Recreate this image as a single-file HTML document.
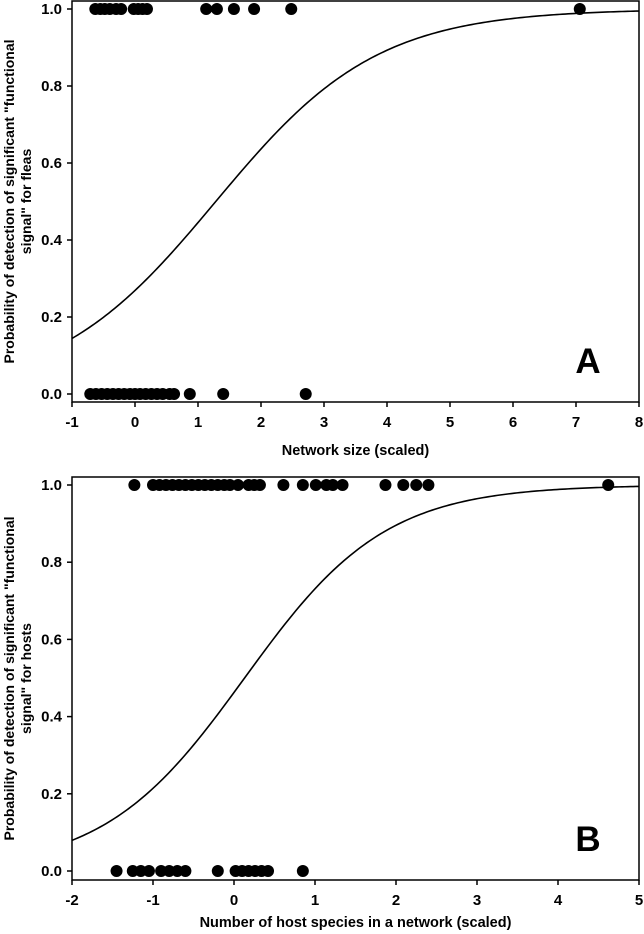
<!DOCTYPE html>
<html><head><meta charset="utf-8"><style>
html,body{margin:0;padding:0;background:#fff;}
svg{display:block;font-family:"Liberation Sans",Arial,sans-serif;font-weight:bold;}
</style></head><body>
<svg id="chart" width="644" height="934" viewBox="0 0 644 934"></svg>
<script>
const xTicksA = [-1,0,1,2,3,4,5,6,7,8];
const xTicksB = [-2,-1,0,1,2,3,4,5];
const yTicks = [0,0.2,0.4,0.6,0.8,1.0];
const yTickLabels = ["0.0","0.2","0.4","0.6","0.8","1.0"];
const pointsA1 = [-0.63,-0.55,-0.48,-0.40,-0.30,-0.22,-0.02,0.05,0.12,0.19,1.13,1.30,1.57,1.89,2.48,7.06];
const pointsA0 = [-0.71,-0.62,-0.53,-0.44,-0.35,-0.26,-0.17,-0.08,0.0,0.08,0.17,0.26,0.35,0.44,0.55,0.62,0.87,1.40,2.71];
const pointsB1 = [-1.23,-1.0,-0.92,-0.84,-0.76,-0.68,-0.60,-0.52,-0.44,-0.36,-0.28,-0.20,-0.12,-0.05,0.05,0.18,0.25,0.32,0.61,0.85,1.01,1.14,1.22,1.34,1.87,2.09,2.25,2.40,4.62];
const pointsB0 = [-1.45,-1.25,-1.15,-1.05,-0.9,-0.8,-0.7,-0.6,-0.2,0.02,0.1,0.18,0.26,0.34,0.42,0.85];
const coefA = [-1.0, 0.78];
const coefB = [-0.15, 1.15];

const svg = document.getElementById('chart');
const NS = 'http://www.w3.org/2000/svg';
function mk(tag, attrs, parent){const e=document.createElementNS(NS,tag);for(const k in attrs)e.setAttribute(k,attrs[k]);(parent||svg).appendChild(e);return e;}

function panel(cfg){
  const g = mk('g',{});
  
  
  const L=72,R=639,T=cfg.top,B=cfg.bottom;
  const sx = v => L + (v-cfg.xmin)/(cfg.xmax-cfg.xmin)*(R-L);
  const sy = v => cfg.y0 + (cfg.y1-cfg.y0)*v;
  const frame = mk('rect',{x:L,y:T,width:R-L,height:B-T,fill:'none',stroke:'#000','stroke-width':1.5},g);
  
  
  cfg.xticks.forEach(t=>{
    const x=sx(t);
    const tk = mk('line',{x1:x,x2:x,y1:B,y2:B+5,stroke:'#000','stroke-width':1.5},g);
    
    
    const lb = mk('text',{x:x,y:B+25,'text-anchor':'middle','font-size':15},g);
    lb.textContent=t;
    
    
  });
  yTicks.forEach((t,i)=>{
    const y=sy(t);
    const tk = mk('line',{x1:L-5,x2:L,y1:y,y2:y,stroke:'#000','stroke-width':1.5},g);
    
    
    const lb = mk('text',{x:L-10,y:y+5,'text-anchor':'end','font-size':15},g);
    lb.textContent=yTickLabels[i];
    
    
  });
  let d='';
  for(let i=0;i<=200;i++){
    const v=cfg.xmin+(cfg.xmax-cfg.xmin)*i/200;
    const p=1/(1+Math.exp(-(cfg.coef[0]+cfg.coef[1]*v)));
    d+=(i?'L':'M')+sx(v).toFixed(2)+','+sy(p).toFixed(2);
  }
  const c = mk('path',{d:d,fill:'none',stroke:'#000','stroke-width':1.6},g);
  
  
  [[cfg.p1,1],[cfg.p0,0]].forEach(([arr,yv])=>{
    arr.forEach(v=>{
      const pt = mk('circle',{cx:sx(v),cy:sy(yv),r:6,fill:'#000'},g);
      
      
    });
  });
  const xt = mk('text',{x:(L+R)/2,y:B+cfg.titleOff,'text-anchor':'middle','font-size':14.5},g);
  xt.textContent=cfg.xtitle;
  
  
  const cy=(T+B)/2;
  const yt = mk('text',{transform:`translate(14,${cy}) rotate(-90)`,'text-anchor':'middle','font-size':14},g);
  
  
  const t1=mk('tspan',{x:0,y:0},yt); t1.textContent='Probability of detection of significant "functional';
  const t2=mk('tspan',{x:0,y:17},yt); t2.textContent=cfg.ysub;
  const letter = mk('text',{x:588,y:B-29,'text-anchor':'middle','font-size':35},g);
  letter.textContent=cfg.letter;
  
  
}
panel({name:'panel-a',top:1,bottom:402,y0:394,y1:9,xmin:-1,xmax:8,xticks:xTicksA,p1:pointsA1,p0:pointsA0,coef:coefA,xtitle:'Network size (scaled)',ysub:'signal" for fleas',letter:'A',titleOff:53});
panel({name:'panel-b',top:477,bottom:880,y0:871,y1:485,xmin:-2,xmax:5,xticks:xTicksB,p1:pointsB1,p0:pointsB0,coef:coefB,xtitle:'Number of host species in a network (scaled)',ysub:'signal" for hosts',letter:'B',titleOff:47});
</script>
</body></html>
